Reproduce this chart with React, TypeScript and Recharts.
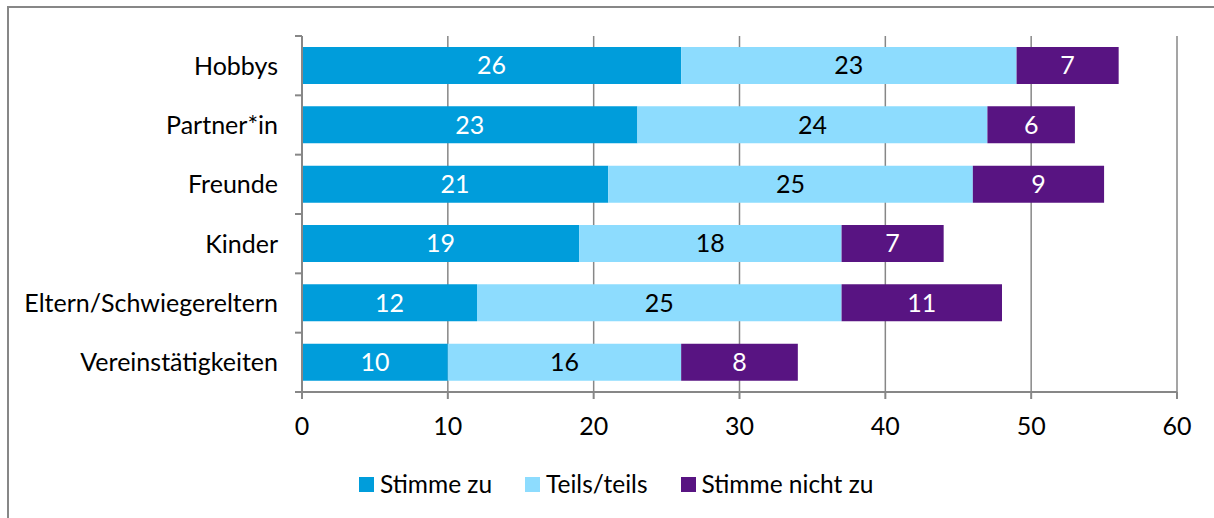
import React from 'react';
import { BarChart, Bar, XAxis, YAxis, CartesianGrid, LabelList } from 'recharts';

const categories = ['Hobbys', 'Partner*in', 'Freunde', 'Kinder', 'Eltern/Schwiegereltern', 'Vereinstätigkeiten'];
const stimmeZu = [26, 23, 21, 19, 12, 10];
const teilsTeils = [23, 24, 25, 18, 25, 16];
const stimmeNichtZu = [7, 6, 9, 7, 11, 8];
const xTicks = [0, 10, 20, 30, 40, 50, 60];

const seriesNames = ['Stimme zu', 'Teils/teils', 'Stimme nicht zu'];
const colors = ['#009ddb', '#8ddcfe', '#581482'];

const data = categories.map((c, i) => ({
  name: c,
  zu: stimmeZu[i],
  teils: teilsTeils[i],
  nicht: stimmeNichtZu[i],
}));

const FONT = 'Lato, sans-serif';
const GRAY = '#878787';
const FS = 25;

const W = 1214;
const H = 518;
const MARGIN = { top: 36, right: 37, left: 0, bottom: 86 };
const YAXIS_W = 302;
const XAXIS_H = 40;
const PLOT_H = H - MARGIN.top - MARGIN.bottom - XAXIS_H;
const BAND = PLOT_H / categories.length;

function CatTick(props: any) {
  const { x, y, payload, index } = props;
  const axisX = MARGIN.left + YAXIS_W;
  return (
    <g>
      <text x={x} y={y} dy="0.355em" textAnchor="end" fill="#000" fontSize={FS} fontFamily={FONT}>
        {payload.value}
      </text>
      <line x1={axisX - 7} x2={axisX} y1={y - BAND / 2} y2={y - BAND / 2} stroke={GRAY} strokeWidth={2} />
      {index === categories.length - 1 && (
        <line x1={axisX - 7} x2={axisX} y1={y + BAND / 2} y2={y + BAND / 2} stroke={GRAY} strokeWidth={2} />
      )}
    </g>
  );
}

export default function App() {
  return (
    <div style={{ position: 'relative', width: W, height: H, overflow: 'hidden', fontFamily: FONT }}>
      <style>{`body{margin:0;overflow:hidden}`}</style>
      <div
        style={{
          position: 'absolute',
          left: 7,
          top: 6,
          width: 1230,
          height: 540,
          border: `2px solid ${GRAY}`,
          boxSizing: 'border-box',
        }}
      />
      <div style={{ position: 'absolute', left: 0, top: 0 }}>
        <BarChart width={W} height={H} data={data} layout="vertical" margin={MARGIN} barSize={37}>
          <CartesianGrid horizontal={false} vertical stroke={GRAY} strokeWidth={1.5} />
          <YAxis
            type="category"
            dataKey="name"
            width={YAXIS_W}
            tickSize={0}
            tickMargin={24}
            tickLine={false}
            axisLine={{ stroke: GRAY, strokeWidth: 2 }}
            tick={<CatTick />}
          />
          <XAxis
            type="number"
            domain={[0, 60]}
            ticks={xTicks}
            height={XAXIS_H}
            tickSize={7}
            tickMargin={18}
            axisLine={{ stroke: GRAY, strokeWidth: 2 }}
            tickLine={{ stroke: GRAY, strokeWidth: 2 }}
            tick={{ fill: '#000', fontSize: FS, fontFamily: FONT }}
          />
          <Bar dataKey="zu" stackId="a" fill={colors[0]} isAnimationActive={false}>
            <LabelList dataKey="zu" position="center" fill="#fff" fontSize={FS} fontFamily={FONT} />
          </Bar>
          <Bar dataKey="teils" stackId="a" fill={colors[1]} isAnimationActive={false}>
            <LabelList dataKey="teils" position="center" fill="#000" fontSize={FS} fontFamily={FONT} />
          </Bar>
          <Bar dataKey="nicht" stackId="a" fill={colors[2]} isAnimationActive={false}>
            <LabelList dataKey="nicht" position="center" fill="#fff" fontSize={FS} fontFamily={FONT} />
          </Bar>
        </BarChart>
      </div>
      <div
        style={{
          position: 'absolute',
          left: 359,
          top: 469,
          display: 'flex',
          alignItems: 'center',
          fontSize: 24.5,
          color: '#000',
          lineHeight: '30px',
        }}
      >
        {seriesNames.map((n, i) => (
          <div key={n} style={{ display: 'flex', alignItems: 'center', marginRight: 33 }}>
            <span style={{ display: 'inline-block', width: 15, height: 15, background: colors[i], marginRight: 6 }} />
            <span>{n}</span>
          </div>
        ))}
      </div>
    </div>
  );
}
